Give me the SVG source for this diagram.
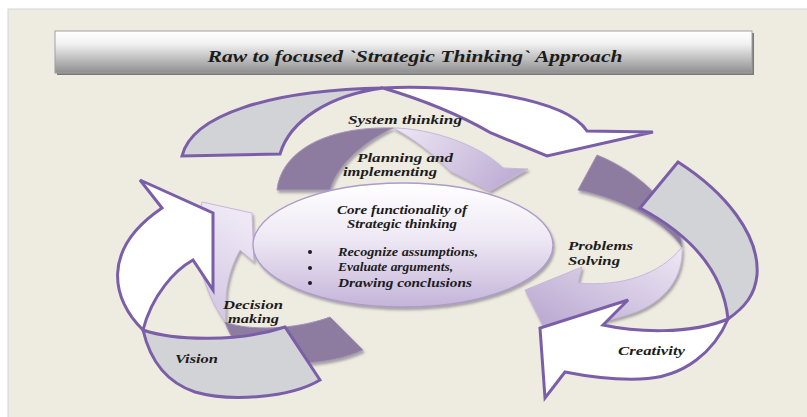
<svg xmlns="http://www.w3.org/2000/svg" width="807" height="417" viewBox="0 0 807 417">
<defs>
<linearGradient id="barG" x1="0" y1="0" x2="0" y2="1">
<stop offset="0" stop-color="#FFFFFF"/><stop offset="0.3" stop-color="#F2F2F2"/><stop offset="1" stop-color="#8E8E8E"/>
</linearGradient>
<linearGradient id="ellG" x1="0" y1="0" x2="0" y2="1">
<stop offset="0" stop-color="#FFFFFF"/><stop offset="0.45" stop-color="#EEE8F4"/><stop offset="1" stop-color="#C4B4D9"/>
</linearGradient>
<linearGradient id="lightTop" x1="0" y1="0" x2="1" y2="0.4">
<stop offset="0" stop-color="#EEE8F5"/><stop offset="1" stop-color="#C1B0D6"/>
</linearGradient>
<linearGradient id="lightRight" x1="1" y1="0" x2="0" y2="1">
<stop offset="0" stop-color="#EEE8F5"/><stop offset="1" stop-color="#B6A3CE"/>
</linearGradient>
<linearGradient id="lightLeft" x1="0" y1="1" x2="0.3" y2="0">
<stop offset="0" stop-color="#CFC2E0"/><stop offset="1" stop-color="#EEE8F5"/>
</linearGradient>
<filter id="sh" x="-10%" y="-10%" width="130%" height="130%">
<feDropShadow dx="1.5" dy="2.5" stdDeviation="1" flood-color="#6E6A72" flood-opacity="0.55"/>
</filter>
</defs>
<style>
.outer{stroke:#7B5EA8;stroke-width:3;stroke-linejoin:miter}
.gray{fill:#D2D3D6}
.white{fill:#FFFFFF}
.dark{fill:#8D7C9F;stroke:#A594B8;stroke-width:1}
.inner{stroke:#C6B8DA;stroke-width:1}
.lbl{font-family:"Liberation Serif","Times New Roman",serif;font-weight:bold;font-style:italic;fill:#1C1C1C}
</style>
<rect x="0" y="0" width="807" height="417" fill="#FFFFFF"/>
<rect x="8" y="9" width="800" height="410" fill="#EEEBE1" stroke="#D6D6D6" stroke-width="1"/>

<g id="title">
<rect x="57" y="33" width="697" height="42" fill="#7A7A7A"/>
<rect x="55" y="31" width="697" height="42" fill="url(#barG)" stroke="#A0A0A0" stroke-width="1"/>
<text class="lbl" x="415" y="62" font-size="17" text-anchor="middle" textLength="415" lengthAdjust="spacingAndGlyphs">Raw to focused `Strategic Thinking` Approach</text>
</g>

<g id="planning-implementing">
<path class="dark" filter="url(#sh)" d="M277,190 C281,152 325,126 393,128 C368,140 338,162 330,190 Z"/>
<path class="inner" fill="url(#lightTop)" filter="url(#sh)" d="M393,128 C430,128 480,145 503,168 L528,169 L490,191 L450,171 C432,153 413,138 393,128 Z"/>
</g>

<g id="problems-solving">
<path class="dark" filter="url(#sh)" d="M597,155 C640,172 680,210 682,247 C665,222 625,200 578,190 Z"/>
<path class="inner" fill="url(#lightRight)" filter="url(#sh)" d="M682,247 C684,277 665,302 633,313 C612,320 590,324 565,332 L545,330 L525,290 L582,267 L578,283 C620,287 660,275 682,247 Z"/>
</g>

<g id="decision-making">
<path class="dark" filter="url(#sh)" d="M225,322 C248,331 295,330 330,317 L363,350 C330,366 272,368 246,353 C237,346 230,336 225,322 Z"/>
<path class="inner" fill="url(#lightLeft)" filter="url(#sh)" d="M225,322 C214,306 204,286 200,262 C197,240 198,220 202,202 L252,213 L254,262 L240,250 C231,266 226,285 226,300 C226,310 226,316 225,322 Z"/>
</g>

<g id="core">
<ellipse cx="403" cy="245" rx="150" ry="62" fill="url(#ellG)" stroke="#AE9BCB" stroke-width="1.3" filter="url(#sh)"/>
<text class="lbl" x="402" y="214" font-size="11.5" text-anchor="middle" textLength="130" lengthAdjust="spacingAndGlyphs">Core functionality of</text>
<text class="lbl" x="402" y="228" font-size="11.5" text-anchor="middle" textLength="110" lengthAdjust="spacingAndGlyphs">Strategic thinking</text>
<circle cx="310" cy="252" r="2" fill="#1C1C1C"/>
<circle cx="310" cy="268" r="2" fill="#1C1C1C"/>
<circle cx="310" cy="283" r="2" fill="#1C1C1C"/>
<text class="lbl" x="338" y="256" font-size="11.5" textLength="140" lengthAdjust="spacingAndGlyphs">Recognize assumptions,</text>
<text class="lbl" x="338" y="271" font-size="11.5" textLength="115" lengthAdjust="spacingAndGlyphs">Evaluate arguments,</text>
<text class="lbl" x="338" y="287" font-size="11.5" textLength="134" lengthAdjust="spacingAndGlyphs">Drawing conclusions</text>
</g>

<g id="system-thinking">
<path class="outer gray" d="M182,156 C192,115 270,90 383,88 C330,95 290,120 280,154 Z"/>
<path class="outer white" d="M383,88 C450,84 565,96 587,131 L653,132 L547,156 L491,133 C460,115 420,99 383,88 Z"/>
</g>

<g id="creativity">
<path class="outer gray" d="M640,208 L678,162 C725,192 760,235 757,275 C755,295 745,307 728,319 C724,280 700,240 640,208 Z"/>
<path class="outer white" d="M728,319 C715,350 685,378 640,379 C610,380 585,376 565,372 L545,398 L540,328 L628,300 L603,325 C635,332 690,335 728,319 Z"/>
</g>

<g id="vision">
<path class="outer white" d="M143,330 C112,300 100,250 162,208 L140,180 L213,213 L213,290 L193,260 C175,270 152,295 143,330 Z"/>
<path class="outer gray" d="M143,330 C175,341 240,342 285,327 L320,380 C290,398 230,402 195,392 C165,382 150,360 143,330 Z"/>
</g>

<g id="labels">
<text class="lbl" x="348" y="124" font-size="13.5" textLength="114" lengthAdjust="spacingAndGlyphs">System thinking</text>
<text class="lbl" x="357" y="162" font-size="13.5" textLength="96" lengthAdjust="spacingAndGlyphs">Planning and</text>
<text class="lbl" x="343" y="176" font-size="13.5" textLength="94" lengthAdjust="spacingAndGlyphs">implementing</text>
<text class="lbl" x="568" y="250" font-size="13.5" textLength="65" lengthAdjust="spacingAndGlyphs">Problems</text>
<text class="lbl" x="568" y="265" font-size="13.5" textLength="52" lengthAdjust="spacingAndGlyphs">Solving</text>
<text class="lbl" x="223" y="309" font-size="13.5" textLength="60" lengthAdjust="spacingAndGlyphs">Decision</text>
<text class="lbl" x="228" y="323" font-size="13.5" textLength="51" lengthAdjust="spacingAndGlyphs">making</text>
<text class="lbl" x="175" y="363" font-size="13.5" textLength="43" lengthAdjust="spacingAndGlyphs">Vision</text>
<text class="lbl" x="618" y="355" font-size="13.5" textLength="67" lengthAdjust="spacingAndGlyphs">Creativity</text>
</g>
</svg>
